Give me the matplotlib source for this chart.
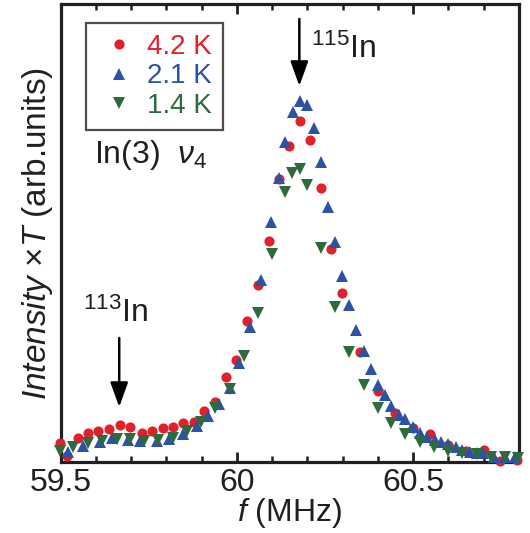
import matplotlib
matplotlib.use("Agg")
import matplotlib.pyplot as plt
from matplotlib.ticker import MultipleLocator

plt.rcParams["font.family"] = ["Liberation Sans", "DejaVu Sans"]
plt.rcParams["mathtext.fontset"] = "custom"
plt.rcParams["mathtext.rm"] = "Liberation Sans"
plt.rcParams["mathtext.it"] = "Liberation Sans:italic"

# 4.2 K
f_42 = [59.499, 59.519, 59.548, 59.578, 59.607, 59.638, 59.668, 59.697, 59.730, 59.759,
        59.789, 59.818, 59.848, 59.877, 59.907, 59.938, 59.970, 59.998, 60.028, 60.059,
        60.090, 60.118, 60.149, 60.178, 60.208, 60.239, 60.268, 60.299, 60.348, 60.399,
        60.448, 60.499, 60.549, 60.599, 60.651, 60.700, 60.745, 60.795]
I_42 = [0.19, 0.06, 0.24, 0.29, 0.31, 0.33, 0.37, 0.35, 0.29, 0.31,
        0.34, 0.35, 0.39, 0.40, 0.51, 0.60, 0.85, 1.02, 1.41, 1.77,
        2.21, 2.83, 3.16, 3.41, 3.22, 2.74, 2.13, 1.69, 1.10, 0.71,
        0.49, 0.34, 0.28, 0.17, 0.11, 0.12, 0.01, 0.02]

# 2.1 K
f_21 = [59.522, 59.564, 59.612, 59.645, 59.692, 59.725, 59.773, 59.806, 59.848, 59.886,
        59.919, 59.948, 59.979, 60.007, 60.038, 60.068, 60.097, 60.118, 60.137, 60.158,
        60.178, 60.199, 60.218, 60.239, 60.259, 60.279, 60.299, 60.319, 60.339, 60.360,
        60.379, 60.399, 60.419, 60.438, 60.459, 60.478, 60.499, 60.519, 60.540, 60.561,
        60.580, 60.599, 60.620, 60.639, 60.660, 60.680, 60.699, 60.729, 60.759, 60.789]
I_21 = [0.10, 0.16, 0.20, 0.24, 0.22, 0.21, 0.21, 0.23, 0.28, 0.36,
        0.46, 0.58, 0.74, 0.99, 1.35, 1.82, 2.40, 2.84, 3.20, 3.50,
        3.61, 3.57, 3.34, 3.00, 2.55, 2.20, 1.86, 1.57, 1.32, 1.11,
        0.93, 0.77, 0.67, 0.56, 0.47, 0.43, 0.35, 0.29, 0.25, 0.22,
        0.20, 0.18, 0.15, 0.12, 0.10, 0.09, 0.09, 0.05, 0.05, 0.05]

# 1.4 K
f_14 = [59.498, 59.536, 59.578, 59.616, 59.659, 59.697, 59.737, 59.777, 59.818, 59.858,
        59.898, 59.938, 59.979, 60.019, 60.059, 60.099, 60.137, 60.156, 60.178, 60.199,
        60.239, 60.279, 60.319, 60.360, 60.399, 60.438, 60.478, 60.519, 60.559, 60.599,
        60.639, 60.680, 60.720, 60.759, 60.797]
I_14 = [0.11, 0.15, 0.19, 0.21, 0.23, 0.23, 0.21, 0.22, 0.24, 0.31,
        0.40, 0.54, 0.73, 1.06, 1.49, 2.08, 2.70, 2.89, 2.93, 2.77,
        2.14, 1.55, 1.10, 0.77, 0.54, 0.39, 0.28, 0.20, 0.15, 0.11,
        0.09, 0.08, 0.05, 0.05, 0.04]

series = [
    (f_42, I_42, "4.2 K", "o", "#e3202a", 7.3),
    (f_21, I_21, "2.1 K", "^", "#2b52a3", 8.0),
    (f_14, I_14, "1.4 K", "v", "#2e6b3c", 8.0),
]

ink = "#231f20"

fig = plt.figure(figsize=(5.3, 5.33), dpi=100)
ax = fig.add_axes([0.1145, 0.1332, 0.8647, 0.8584])

for f, inten, lab, mk, col, ms in series:
    ax.plot(f, inten, linestyle="none", marker=mk, color=col, markersize=ms,
            markeredgewidth=0, label=lab, clip_on=False, zorder=3)

ax.set_xlim(59.5, 60.8)
ax.set_ylim(0, 4.575)

ax.xaxis.set_major_locator(MultipleLocator(0.5))
ax.xaxis.set_minor_locator(MultipleLocator(0.1))
ax.set_xticks([59.5, 60.0, 60.5])
ax.set_xticklabels(["59.5", "60", "60.5"])
ax.tick_params(axis="x", which="both", direction="in", top=True, bottom=True,
               colors=ink, labelsize=23, pad=4)
ax.tick_params(axis="x", which="major", length=7, width=2)
ax.tick_params(axis="x", which="minor", length=4.5, width=1.8)
ax.tick_params(axis="y", which="both", left=False, right=False, labelleft=False)

for s in ax.spines.values():
    s.set_linewidth(2.3)
    s.set_color(ink)

ax.set_xlabel("$\\mathit{f}$ (MHz)", fontsize=23, color=ink, labelpad=-1)
ax.set_ylabel("$\\mathit{Intensity}$ ×$\\mathit{T}$ (arb.units)", fontsize=24,
              color=ink, labelpad=4)

leg = ax.legend(loc="upper left", bbox_to_anchor=(0.0552, 0.960), borderaxespad=0,
                fontsize=20, frameon=True, fancybox=False, borderpad=0.4,
                handlelength=1.6, handletextpad=0.2, labelspacing=0.12,
                markerscale=1.0)
leg.get_frame().set_edgecolor(ink)
leg.get_frame().set_linewidth(1.6)
for txt, (_, _, _, _, col, _) in zip(leg.get_texts(), series):
    txt.set_color(col)

ax.text(59.595, 2.99, "In(3)  $\\nu_4$", fontsize=23, color=ink, va="baseline")

ax.annotate("", xy=(60.177, 3.76), xytext=(60.177, 4.43),
            arrowprops=dict(arrowstyle="-|>,head_length=0.75,head_width=0.27",
                            lw=1.8, color="black", mutation_scale=20,
                            shrinkA=0, shrinkB=0))
ax.text(60.21, 4.04, "$^{115}$In", fontsize=23, color=ink, va="baseline")

ax.annotate("", xy=(59.666, 0.55), xytext=(59.666, 1.24),
            arrowprops=dict(arrowstyle="-|>,head_length=0.75,head_width=0.27",
                            lw=1.8, color="black", mutation_scale=20,
                            shrinkA=0, shrinkB=0))
ax.text(59.562, 1.40, "$^{113}$In", fontsize=23, color=ink, va="baseline")

fig.savefig("out.png", dpi=100)
